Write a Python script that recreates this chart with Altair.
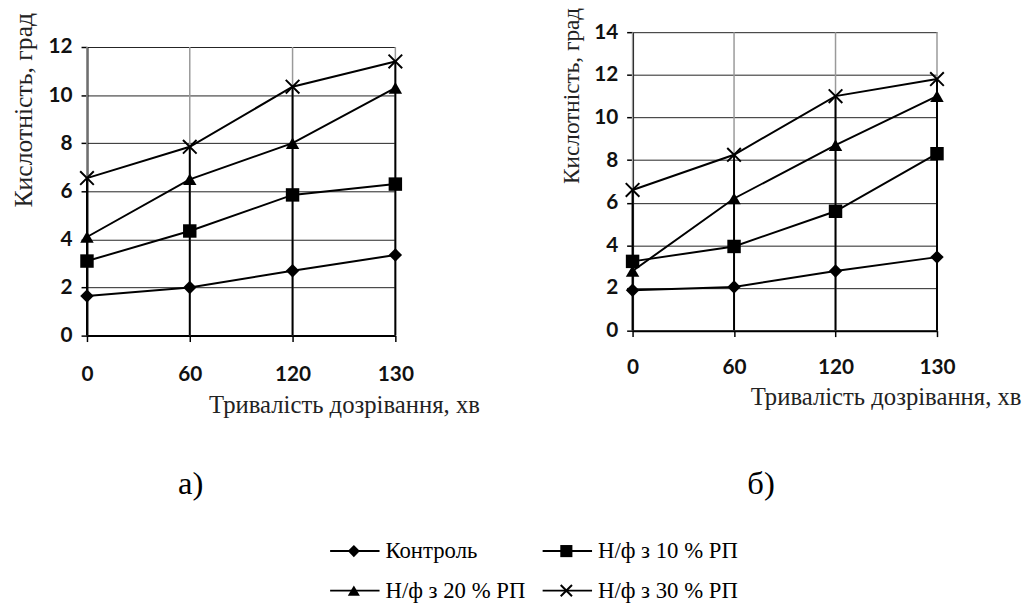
import altair as alt
import pandas as pd

times = ["0", "60", "120", "130"]
series = ["Контроль", "Н/ф з 10 % РП", "Н/ф з 20 % РП", "Н/ф з 30 % РП"]

# panel а)
a_control = [1.65, 2.0, 2.7, 3.35]
a_10 = [3.1, 4.35, 5.85, 6.3]
a_20 = [4.1, 6.5, 8.0, 10.3]
a_30 = [6.55, 7.85, 10.35, 11.4]
a_yticks = [0, 2, 4, 6, 8, 10, 12]

# panel б)
b_control = [1.9, 2.05, 2.8, 3.45]
b_10 = [3.25, 3.95, 5.6, 8.3]
b_20 = [2.8, 6.2, 8.7, 11.0]
b_30 = [6.6, 8.25, 11.0, 11.8]
b_yticks = [0, 2, 4, 6, 8, 10, 12, 14]

XTITLE = "Тривалість дозрівання, хв"
YTITLE = "Кислотність, град"
CROSS = "M-1,-1L1,1M-1,1L1,-1"
SERIF = "Liberation Serif, Times New Roman, serif"

shape_scale = alt.Scale(domain=series, range=["diamond", "square", "triangle-up", CROSS])


def long_df(lists):
    rows = []
    for s, vals in zip(series, lists):
        for t, v in zip(times, vals):
            rows.append({"t": t, "s": s, "v": v})
    return pd.DataFrame(rows)


def panel(lists, ymax, yticks, width, height, yrange, xlabel_pad, xtitle_x, xtitle_y,
          ytitle_x, ytitle_y, ytitle_size, label, label_x, label_y, legend=False):
    df = long_df(lists)
    tops = [max(col) for col in zip(*lists)]
    rules = pd.DataFrame({"t": times, "zero": [0] * 4, "top": tops, "ymax": [ymax] * 4})

    xenc = alt.X("t:O", sort=times, scale=alt.Scale(type="point", padding=0),
                 axis=alt.Axis(title=XTITLE, titleX=xtitle_x, titleY=xtitle_y,
                               titleAlign="center", titleBaseline="middle",
                               labelAngle=0, grid=False, labelPadding=xlabel_pad))
    yscale = alt.Scale(domain=[0, ymax], nice=False, zero=True, range=yrange)
    yaxis = alt.Axis(title=YTITLE, values=yticks, titleX=ytitle_x, titleY=ytitle_y,
                     titleAlign="left", titleBaseline="middle", titleFontSize=ytitle_size,
                     grid=True)

    grid_v = alt.Chart(rules).mark_rule(color="#9a9a9a", strokeWidth=1.5).encode(
        x=xenc, y=alt.Y("zero:Q", scale=yscale, axis=yaxis), y2="ymax:Q")
    drop = alt.Chart(rules).mark_rule(color="black", strokeWidth=2).encode(
        x=xenc, y=alt.Y("zero:Q", scale=yscale, axis=yaxis), y2="top:Q")
    base = alt.Chart(df).encode(x=xenc, y=alt.Y("v:Q", scale=yscale, axis=yaxis))
    lines = base.mark_line(color="black", strokeWidth=2).encode(detail="s:N")
    filled = base.transform_filter(alt.FieldOneOfPredicate(field="s", oneOf=series[:3])).mark_point(
        filled=True, color="black", opacity=1, size=185).encode(
        shape=alt.Shape("s:N", scale=shape_scale, legend=None))
    crosses = base.transform_filter(alt.FieldEqualPredicate(field="s", equal=series[3])).mark_point(
        filled=False, color="black", opacity=1, size=190, strokeWidth=2).encode(
        shape=alt.Shape("s:N", scale=shape_scale, legend=None))
    lab = alt.Chart(pd.DataFrame({"l": [label]})).mark_text(
        font=SERIF, fontSize=33, color="black", baseline="alphabetic", align="center").encode(
        text="l:N", x=alt.value(label_x), y=alt.value(label_y))
    layers = [grid_v, drop, lines, filled, crosses, lab]

    if legend:
        for i, s in enumerate(series):
            col, row = i % 2, i // 2
            x0 = 246 + col * 215
            yy = 525 + row * 40
            sd = pd.DataFrame({"s": [s]})
            layers.append(alt.Chart(sd).mark_rule(color="black", strokeWidth=2).encode(
                x=alt.value(x0), x2=alt.value(x0 + 50), y=alt.value(yy)))
            if i < 3:
                layers.append(alt.Chart(sd).mark_point(filled=True, color="black", opacity=1, size=150).encode(
                    x=alt.value(x0 + 24), y=alt.value(yy),
                    shape=alt.Shape("s:N", scale=shape_scale, legend=None)))
            else:
                layers.append(alt.Chart(sd).mark_point(filled=False, color="black", opacity=1, size=130,
                                                       strokeWidth=2).encode(
                    x=alt.value(x0 + 24), y=alt.value(yy),
                    shape=alt.Shape("s:N", scale=shape_scale, legend=None)))
            layers.append(alt.Chart(sd).mark_text(font=SERIF, fontSize=23, color="black",
                                                  align="left", baseline="middle").encode(
                text="s:N", x=alt.value(x0 + 56), y=alt.value(yy)))

    return alt.layer(*layers).properties(width=width, height=height)


left = panel([a_control, a_10, a_20, a_30], 12, a_yticks, 312, 307, [307, 15], 22,
             260, 70, -64, 177, 26, "а)", 105, 467, legend=True)
right = panel([b_control, b_10, b_20, b_30], 14, b_yticks, 308, 302, [302, 0], 20,
              256, 67, -62, 153, 23.5, "б)", 130, 467)

chart = alt.hconcat(left, right, spacing=240, bounds="flush").properties(
    padding={"left": 11, "top": 3, "right": 0, "bottom": 0}
).configure_view(stroke=None).configure_axis(
    domainColor="black", domainWidth=2, tickColor="black", tickWidth=1.5, tickSize=6,
    labelFont="Lato", labelFontWeight="bold", labelFontSize=21, labelColor="#111",
    titleFont=SERIF, titleFontSize=25, titleFontWeight="normal", titleColor="#222",
    gridColor="#222", gridWidth=1, gridOpacity=1
).configure_axisY(labelPadding=9)

chart.save("out.html", embed_options={"renderer": "svg", "actions": False})
